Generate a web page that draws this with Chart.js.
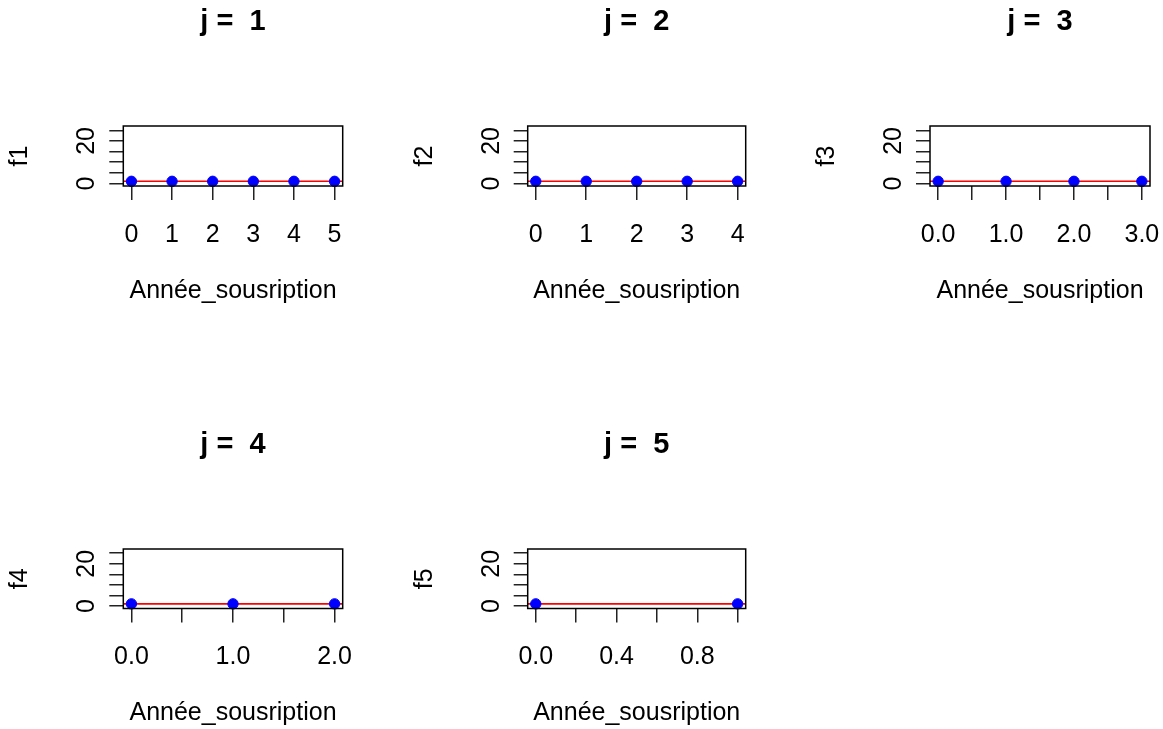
<!DOCTYPE html>
<html>
<head>
<meta charset="utf-8">
<script src="https://cdn.jsdelivr.net/npm/chart.js@4/dist/chart.umd.min.js"></script>
<style>
  html, body { margin: 0; padding: 0; background: #ffffff; }
  #page { position: relative; width: 1163px; height: 729px; overflow: hidden; }
  #page canvas { position: absolute; left: 0; top: 0; }
</style>
</head>
<body>
<div id="page"></div>
<script>
// Subscription years observed for each development index j
const years1 = [0, 1, 2, 3, 4, 5];
const years2 = [0, 1, 2, 3, 4];
const years3 = [0, 1, 2, 3];
const years4 = [0, 1, 2];
const years5 = [0, 1];

// Individual development factors f_j
const f1 = [1, 1, 1, 1, 1, 1];
const f2 = [1, 1, 1, 1, 1];
const f3 = [1, 1, 1, 1];
const f4 = [1, 1, 1];
const f5 = [1, 1];

// Reference level drawn as a horizontal red line
const level1 = 1;
const level2 = 1;
const level3 = 1;
const level4 = 1;
const level5 = 1;

// Axis ticks and their printed labels
const yTicks = [0, 5, 10, 15, 20, 25];
const yTickLabels = ['0', '', '', '', '20', ''];
const xTicks1 = [0, 1, 2, 3, 4, 5];
const xTickLabels1 = ['0', '1', '2', '3', '4', '5'];
const xTicks2 = [0, 1, 2, 3, 4];
const xTickLabels2 = ['0', '1', '2', '3', '4'];
const xTicks3 = [0, 0.5, 1, 1.5, 2, 2.5, 3];
const xTickLabels3 = ['0.0', '', '1.0', '', '2.0', '', '3.0'];
const xTicks4 = [0, 0.5, 1, 1.5, 2];
const xTickLabels4 = ['0.0', '', '1.0', '', '2.0'];
const xTicks5 = [0, 0.2, 0.4, 0.6, 0.8, 1];
const xTickLabels5 = ['0.0', '', '0.4', '', '0.8', ''];

const xTitle = 'Année_sousription';
const yRange = [-1.2, 27];

const FONT = '"Liberation Sans", Arial, sans-serif';
const W = 1163, H = 729;

const panels = [
  { j: 1, x: years1, y: f1, level: level1, xt: xTicks1, xl: xTickLabels1, box: [123.3, 126, 342.7, 186] },
  { j: 2, x: years2, y: f2, level: level2, xt: xTicks2, xl: xTickLabels2, box: [527.7, 126, 745.7, 186] },
  { j: 3, x: years3, y: f3, level: level3, xt: xTicks3, xl: xTickLabels3, box: [930, 126, 1150, 186] },
  { j: 4, x: years4, y: f4, level: level4, xt: xTicks4, xl: xTickLabels4, box: [123.3, 549, 342.7, 608.5] },
  { j: 5, x: years5, y: f5, level: level5, xt: xTicks5, xl: xTickLabels5, box: [527.7, 549, 745.7, 608.5] }
];

const Y_AXIS_W = 14;
const X_AXIS_H = 70;

// Frame, titles and rotated y labels in the style of R base graphics
const decor = {
  id: 'decor',
  afterDatasetsDraw(chart, args, opts) {
    const { ctx, chartArea: a } = chart;
    const cx = (a.left + a.right) / 2;
    const cy = (a.top + a.bottom) / 2;
    ctx.save();
    ctx.strokeStyle = '#000';
    ctx.lineWidth = 1.5;
    ctx.strokeRect(a.left, a.top, a.right - a.left, a.bottom - a.top);

    ctx.fillStyle = '#000';
    ctx.textAlign = 'center';
    ctx.textBaseline = 'middle';

    ctx.font = 'bold 29px ' + FONT;
    ctx.fillText(opts.title, cx, a.top - 104);

    ctx.font = '25px ' + FONT;
    ctx.fillText(xTitle, cx, a.bottom + 105);

    ctx.save();
    ctx.translate(a.left - 103, cy);
    ctx.rotate(-Math.PI / 2);
    ctx.fillText(opts.ylabel, 0, 0);
    ctx.restore();

    const ys = chart.scales.y;
    ys.ticks.forEach(t => {
      const lab = yTickLabels[yTicks.indexOf(t.value)];
      if (!lab) return;
      ctx.save();
      ctx.translate(a.left - 36, ys.getPixelForValue(t.value));
      ctx.rotate(-Math.PI / 2);
      ctx.fillText(lab, 0, 0);
      ctx.restore();
    });
    ctx.restore();
  }
};

const page = document.getElementById('page');

panels.forEach(p => {
  const cv = document.createElement('canvas');
  cv.width = W; cv.height = H;
  cv.style.width = W + 'px'; cv.style.height = H + 'px';
  page.appendChild(cv);

  const span = p.x[p.x.length - 1] - p.x[0];
  const xMin = p.x[0] - 0.04 * span;
  const xMax = p.x[p.x.length - 1] + 0.04 * span;
  const [bl, bt, br, bb] = p.box;

  new Chart(cv, {
    data: {
      datasets: [
        {
          type: 'scatter',
          data: p.x.map((v, i) => ({ x: v, y: p.y[i] })),
          backgroundColor: '#0000ff',
          borderColor: '#0000ff',
          pointRadius: 5.2,
          pointHoverRadius: 5.2,
          clip: false
        },
        {
          type: 'line',
          data: [{ x: xMin, y: p.level }, { x: xMax, y: p.level }],
          borderColor: '#ff0000',
          borderWidth: 1.6,
          pointRadius: 0,
          fill: false
        }
      ]
    },
    options: {
      responsive: false,
      animation: false,
      events: [],
      layout: {
        padding: { left: bl - Y_AXIS_W, top: bt, right: W - br, bottom: H - bb - X_AXIS_H }
      },
      plugins: {
        legend: { display: false },
        tooltip: { enabled: false },
        title: { display: false },
        decor: { title: 'j =  ' + p.j, ylabel: 'f' + p.j }
      },
      scales: {
        x: {
          type: 'linear',
          min: xMin, max: xMax,
          afterBuildTicks: s => { s.ticks = p.xt.map(v => ({ value: v })); },
          afterFit: s => { s.height = X_AXIS_H; s.paddingLeft = 0; s.paddingRight = 0; },
          border: { display: false },
          grid: { drawOnChartArea: false, drawTicks: true, tickLength: 14, color: '#222', lineWidth: 1.5 },
          ticks: {
            autoSkip: false, maxRotation: 0, minRotation: 0,
            padding: 20, color: '#000',
            font: { family: FONT, size: 25 },
            callback: (v, i) => p.xl[i]
          }
        },
        y: {
          type: 'linear',
          min: yRange[0], max: yRange[1],
          afterBuildTicks: s => { s.ticks = yTicks.map(v => ({ value: v })); },
          afterFit: s => { s.width = Y_AXIS_W; s.paddingTop = 0; s.paddingBottom = 0; },
          border: { display: false },
          grid: { drawOnChartArea: false, drawTicks: true, tickLength: 14, color: '#222', lineWidth: 1.5 },
          ticks: { display: false }
        }
      }
    },
    plugins: [decor]
  });
});
</script>
</body>
</html>
